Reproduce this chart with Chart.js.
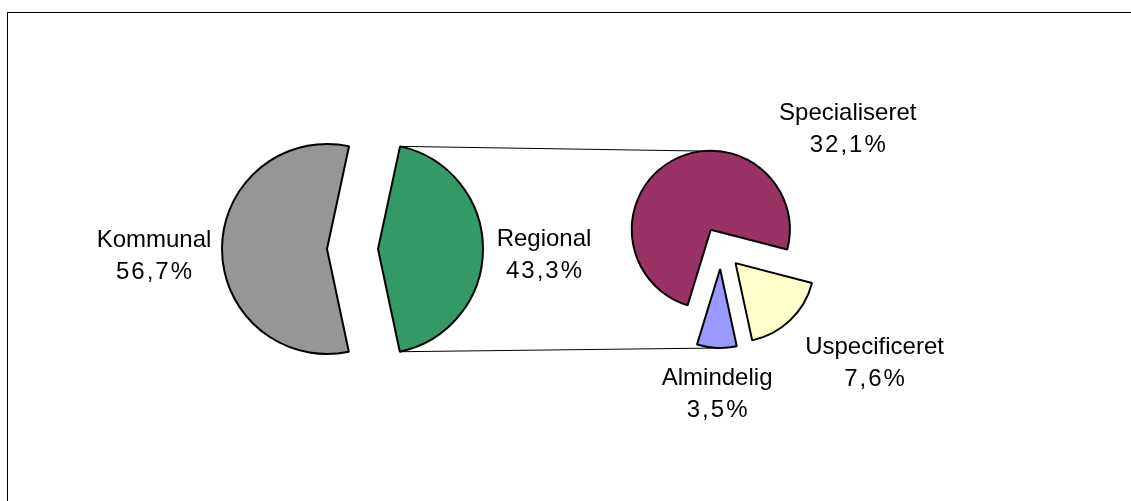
<!DOCTYPE html>
<html>
<head>
<meta charset="utf-8">
<script src="https://cdn.jsdelivr.net/npm/chart.js@4"></script>
<style>
html, body { margin: 0; padding: 0; background: #fff; overflow: hidden; }
#wrap { position: relative; width: 1131px; height: 501px; overflow: hidden; }
#frame { position: absolute; left: 7px; top: 12px; width: 1300px; height: 700px;
         border-left: 1px solid #000; border-top: 1px solid #000; }
canvas { position: absolute; left: 0; top: 0; }
</style>
</head>
<body>
<div id="wrap">
  <div id="frame"></div>
  <canvas id="main" width="1131" height="501"></canvas>
  <canvas id="sub" width="1131" height="501"></canvas>
</div>
<script>
// hovedcirkel
const mainLabels = ['Kommunal', 'Regional'];
const mainValues = [56.7, 43.3];
const mainColors = ['#969696', '#339966'];

// underopdeling af "Regional"
const subLabels = ['Specialiseret', 'Uspecificeret', 'Almindelig'];
const subValues = [32.1, 7.6, 3.5];
const subColors = ['#993366', '#FFFFCC', '#9999FF'];

const W = 1131, H = 501;

function pct(v) {
    return v.toFixed(1).replace('.', ',') + '%';
}

// padding so the chart area is centred on (cx, cy)
function padAround(cx, cy, half) {
    return {left: cx - half, right: W - cx - half, top: cy - half, bottom: H - cy - half};
}

// moves every slice out along its middle angle
const explodePlugin = {
    id: 'explode',
    afterDatasetsUpdate(chart, args, opts) {
        let meta = chart.getDatasetMeta(0);
        meta.data.forEach((arc, i) => {
            let d = opts.dist[i] || 0;
            let mid = (arc.startAngle + arc.endAngle) / 2;
            arc.x += Math.cos(mid) * d;
            arc.y += Math.sin(mid) * d;
        });
    }
};

const labelPlugin = {
    id: 'sliceLabels',
    afterDatasetsDraw(chart, args, opts) {
        let ctx = chart.ctx;
        let meta = chart.getDatasetMeta(0);
        let data = chart.data.datasets[0].data;
        ctx.save();
        ctx.font = '24px "Liberation Sans", Arial, sans-serif';
        ctx.fillStyle = '#000';
        ctx.textAlign = 'center';
        ctx.textBaseline = 'middle';
        meta.data.forEach((arc, i) => {
            let x = arc.x + opts.pos[i][0];
            let y = arc.y + opts.pos[i][1];
            ctx.letterSpacing = '0px';
            ctx.fillText(chart.data.labels[i], x, y);
            ctx.letterSpacing = '2px';
            ctx.fillText(pct(data[i]), x + 1, y + 32);
        });
        ctx.restore();
    }
};

function baseOptions(radius, pad, dist, pos) {
    return {
        responsive: false,
        devicePixelRatio: 1,
        animation: false,
        radius: radius,
        layout: {padding: pad},
        plugins: {
            legend: {display: false},
            tooltip: {enabled: false},
            explode: {dist: dist},
            sliceLabels: {pos: pos}
        }
    };
}

let mainOpts = baseOptions(105, padAround(352.5, 249, 150), [25.5, 25.5], [[-173, -9], [166, -10]]);
mainOpts.rotation = 168;

let mainChart = new Chart(document.getElementById('main').getContext('2d'), {
    type: 'pie',
    data: {
        labels: mainLabels,
        datasets: [{
            data: mainValues,
            backgroundColor: mainColors,
            borderColor: '#000',
            borderWidth: 2
        }]
    },
    options: mainOpts,
    plugins: [explodePlugin, labelPlugin]
});

// point on the outline of the (exploded) pie straight above / below x
function edgeAt(meta, x, sign) {
    for (let arc of meta.data) {
        let r = arc.outerRadius;
        let dx = x - arc.x;
        if (Math.abs(dx) >= r) continue;
        let y = arc.y + sign * Math.sqrt(r * r - dx * dx);
        let a = Math.atan2(y - arc.y, dx);
        let s = arc.startAngle;
        let rel = ((a - s) % (2 * Math.PI) + 2 * Math.PI) % (2 * Math.PI);
        if (rel <= arc.endAngle - arc.startAngle) return {x: x, y: y};
    }
    return null;
}

const connectorPlugin = {
    id: 'connectors',
    beforeDatasetsDraw(chart) {
        let green = mainChart.getDatasetMeta(0).data[1];
        let r = green.outerRadius;
        let p1 = {x: green.x + r * Math.cos(green.startAngle), y: green.y + r * Math.sin(green.startAngle)};
        let p2 = {x: green.x + r * Math.cos(green.endAngle), y: green.y + r * Math.sin(green.endAngle)};
        let area = chart.chartArea;
        let cx = (area.left + area.right) / 2;
        let meta = chart.getDatasetMeta(0);
        let top = edgeAt(meta, cx, -1);
        let bottom = edgeAt(meta, cx, 1);
        let ctx = chart.ctx;
        ctx.save();
        ctx.strokeStyle = '#000';
        ctx.lineWidth = 1;
        ctx.beginPath();
        ctx.moveTo(p1.x, p1.y);
        ctx.lineTo(top.x, top.y);
        ctx.moveTo(p2.x, p2.y);
        ctx.lineTo(bottom.x, bottom.y);
        ctx.stroke();
        ctx.restore();
    }
};

let subOpts = baseOptions(79, padAround(721, 248, 130), [21, 21, 21], [[137, -116], [139, 84], [-3, 109]]);
subOpts.rotation = 197;

let subChart = new Chart(document.getElementById('sub').getContext('2d'), {
    type: 'pie',
    data: {
        labels: subLabels,
        datasets: [{
            data: subValues,
            backgroundColor: subColors,
            borderColor: '#000',
            borderWidth: 2
        }]
    },
    options: subOpts,
    plugins: [explodePlugin, connectorPlugin, labelPlugin]
});
</script>
</body>
</html>
